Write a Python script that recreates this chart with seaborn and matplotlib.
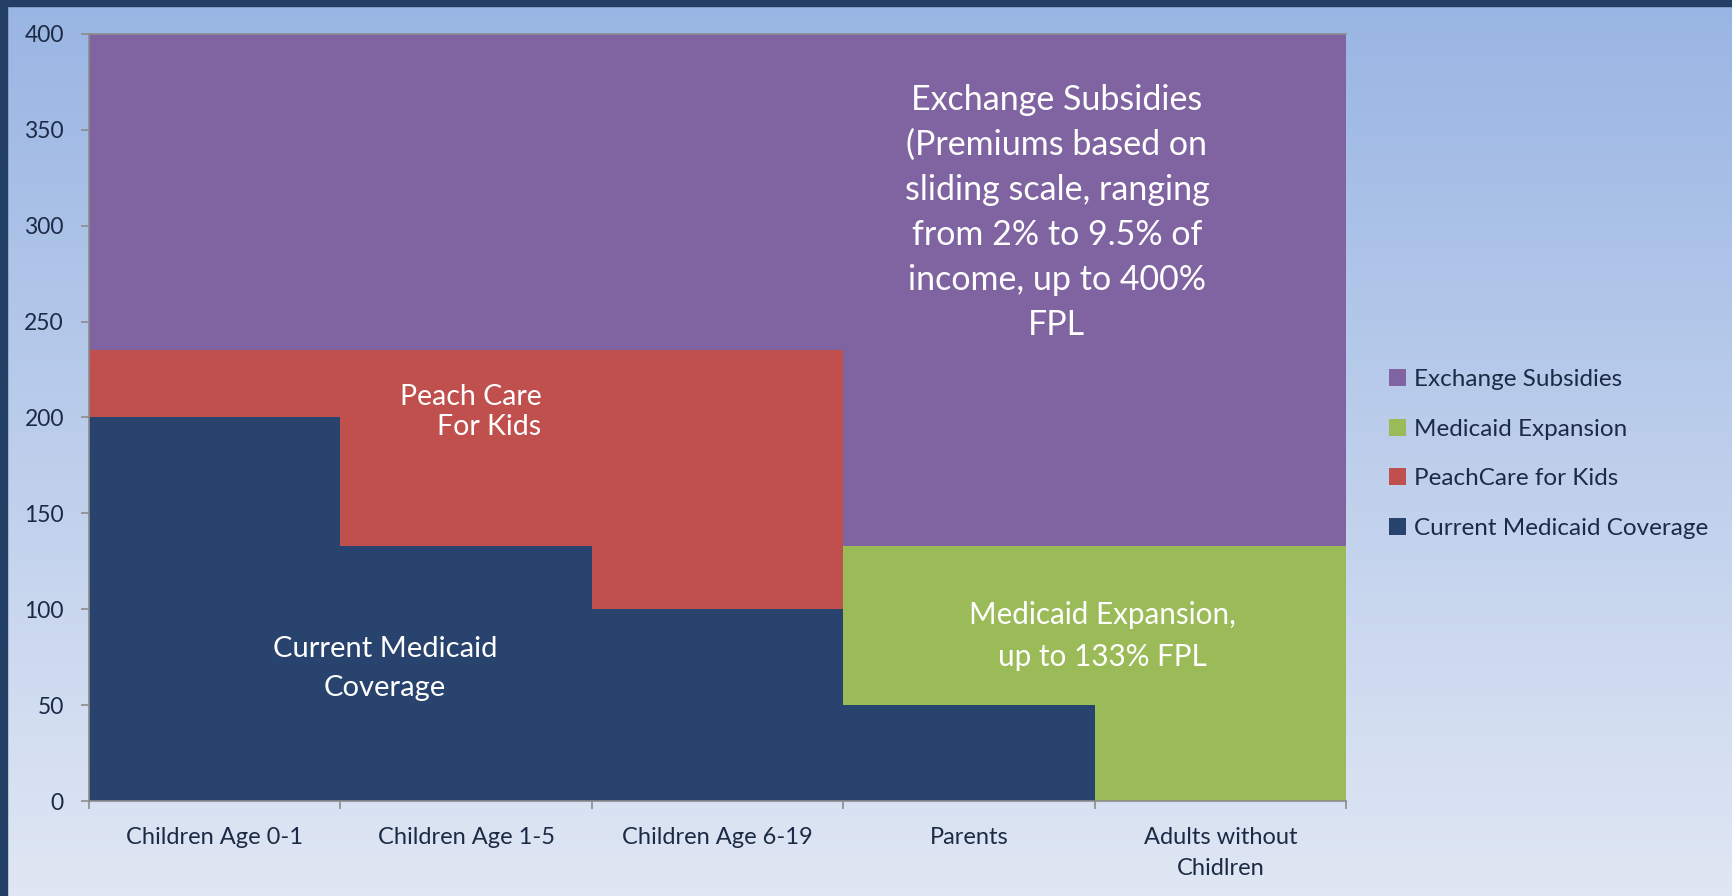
import numpy as np
import pandas as pd
import matplotlib
matplotlib.use("Agg")
import matplotlib.pyplot as plt
from matplotlib.patches import Patch, Rectangle
import seaborn as sns

# ---- data ----
categories = ["Children Age 0-1", "Children Age 1-5", "Children Age 6-19", "Parents",
              "Adults without\nChidlren"]
current_medicaid = [200, 133, 100, 50, 0]
peachcare = [35, 102, 135, 0, 0]
medicaid_expansion = [0, 0, 0, 83, 133]
exchange_subsidies = [165, 165, 165, 267, 267]
series_names = ["Current Medicaid Coverage", "PeachCare for Kids", "Medicaid Expansion", "Exchange Subsidies"]
yticks = [0, 50, 100, 150, 200, 250, 300, 350, 400]

colors = {"Current Medicaid Coverage": "#28436D",
          "PeachCare for Kids": "#C0504D",
          "Medicaid Expansion": "#9BBB59",
          "Exchange Subsidies": "#8064A2"}

sns.set_theme(style="white")
plt.rcParams['font.family'] = ['Lato', 'DejaVu Sans']
TXT = "#1C2B45"

fig = plt.figure(figsize=(17.33, 8.96), dpi=100)

# background gradient
bg = fig.add_axes([0, 0, 1, 1], zorder=-10)
top = np.array([0x99, 0xB5, 0xE3]) / 255
bot = np.array([0xE0, 0xE7, 0xF4]) / 255
t = np.linspace(0, 1, 256)[:, None]
grad = top[None, :] * (1 - t) + bot[None, :] * t
bg.imshow(grad[:, None, :], aspect="auto", extent=[0, 1, 0, 1], origin="upper")
bg.set_axis_off()
# dark frame on left / top
fig.patches.append(Rectangle((0, 0), 7 / 1733, 1, transform=fig.transFigure, color="#243F66", zorder=5))
fig.patches.append(Rectangle((0, 1 - 6 / 896), 1, 6 / 896, transform=fig.transFigure, color="#243F66", zorder=5))

ax = fig.add_axes([89 / 1733, 1 - 801 / 896, (1346 - 89) / 1733, (801 - 34) / 896])
ax.set_facecolor("none")

layers = [current_medicaid, peachcare, medicaid_expansion, exchange_subsidies]
cum = np.cumsum(np.array(layers), axis=0)
# draw cumulative totals from top layer down so lower layers overlay
for i in range(len(layers) - 1, -1, -1):
    name = series_names[i]
    df = pd.DataFrame({"cat": categories, "val": cum[i]})
    sns.barplot(data=df, x="cat", y="val", color=colors[name], width=1.0,
                saturation=1, edgecolor="none", linewidth=0, ax=ax, errorbar=None)

ax.set_xlim(-0.5, len(categories) - 0.5)
ax.set_ylim(0, 400)
ax.set_yticks(yticks)
ax.set_xlabel("")
ax.set_ylabel("")

for s in ["right"]:
    ax.spines[s].set_visible(False)
for s in ["left", "bottom", "top"]:
    ax.spines[s].set_color("#8C8C8C")
    ax.spines[s].set_linewidth(1.2)

ax.tick_params(axis="y", which="major", direction="out", length=6, width=1.2, color="#8C8C8C",
               labelsize=16.5, labelcolor=TXT, pad=12, left=True)
ax.set_xticks(range(len(categories)))
ax.set_xticklabels(categories)
ax.set_xticks(np.arange(-0.5, len(categories), 1.0), minor=True)
ax.tick_params(axis="x", which="major", length=0, labelsize=17, labelcolor=TXT, pad=19)
ax.tick_params(axis="x", which="minor", direction="out", length=6, width=1.2, color="#8C8C8C", bottom=True)
for lbl in ax.get_xticklabels():
    lbl.set_linespacing(1.55)

# annotations
ax.text(3.35, 307, "Exchange Subsidies\n(Premiums based on\nsliding scale, ranging\nfrom 2% to 9.5% of\nincome, up to 400%\nFPL",
        ha="center", va="center", color="white", fontsize=24.5, linespacing=1.5)
ax.text(1.30, 203, "Peach Care\nFor Kids", ha="right", va="center", multialignment="right",
        color="white", fontsize=20.5, linespacing=1.2)
ax.text(0.677, 69.0, "Current Medicaid\nCoverage", ha="center", va="center",
        color="white", fontsize=21, linespacing=1.62)
ax.text(3.53, 86, "Medicaid Expansion,\nup to 133% FPL", ha="center", va="center",
        color="white", fontsize=21.3, linespacing=1.58)

# legend
handles = [Patch(facecolor=colors[n], edgecolor="none") for n in series_names[::-1]]
leg = fig.legend(handles, series_names[::-1], loc="center left",
                 bbox_to_anchor=(1367 / 1733, 1 - 454 / 896), frameon=False,
                 fontsize=17.5, labelcolor=TXT, handlelength=0.7, handleheight=0.7,
                 handletextpad=0.35, labelspacing=1.17)

fig.savefig("out.png", dpi=100)
